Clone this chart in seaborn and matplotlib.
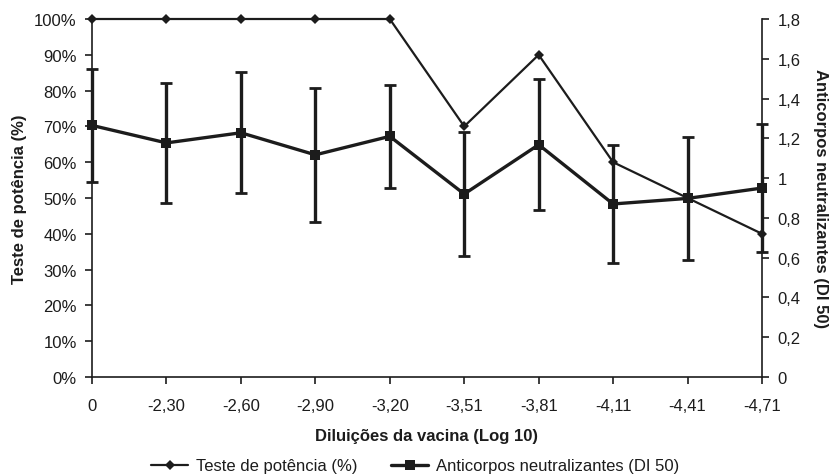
import matplotlib
matplotlib.use("Agg")
import matplotlib.pyplot as plt
from matplotlib.lines import Line2D
from matplotlib.ticker import FuncFormatter, FixedLocator
import seaborn as sns
import pandas as pd
import numpy as np

# ---- data ----
dilutions = ["0", "-2,30", "-2,60", "-2,90", "-3,20", "-3,51", "-3,81", "-4,11", "-4,41", "-4,71"]
potency_pct = [100, 100, 100, 100, 100, 70, 90, 60, 50, 40]
antibody_mean = [1.265, 1.177, 1.228, 1.117, 1.210, 0.920, 1.168, 0.870, 0.898, 0.950]
antibody_err = [0.285, 0.300, 0.305, 0.336, 0.260, 0.312, 0.330, 0.298, 0.310, 0.320]

sns.set_theme(style="white")
plt.rcParams["font.family"] = ["Liberation Sans", "DejaVu Sans"]

ink = "#1c1c1c"
fs = 12
df = pd.DataFrame({
    "pos": np.arange(len(dilutions)),
    "dil": dilutions,
    "pot": potency_pct,
    "ab": antibody_mean,
    "err": antibody_err,
})

fig = plt.figure(figsize=(8.31, 4.77), dpi=100)
ax = fig.add_axes([92 / 831, 1 - 378 / 477, (762 - 92) / 831, (378 - 20) / 477])
ax2 = ax.twinx()

sns.lineplot(data=df, x="pos", y="pot", ax=ax, color=ink, linewidth=1.6,
             marker="D", markersize=5, markeredgewidth=0, clip_on=False, zorder=3)
ax2.errorbar(df["pos"], df["ab"], yerr=df["err"], fmt="none", ecolor=ink,
             elinewidth=2.4, capsize=4, capthick=2.0, clip_on=False, zorder=2)
sns.lineplot(data=df, x="pos", y="ab", ax=ax2, color=ink, linewidth=2.4,
             marker="s", markersize=7.5, markeredgewidth=0, clip_on=False, zorder=3)

ax.set_xlim(0, len(dilutions) - 1)
ax.set_ylim(0, 100)
ax2.set_ylim(0, 1.8)

ax.xaxis.set_major_locator(FixedLocator(df["pos"].tolist()))
ax.set_xticklabels(dilutions)
ax.yaxis.set_major_locator(FixedLocator(list(range(0, 101, 10))))
ax.yaxis.set_major_formatter(FuncFormatter(lambda v, p: f"{int(round(v))}%"))
ax2.yaxis.set_major_locator(FixedLocator([round(0.2 * i, 1) for i in range(10)]))
ax2.yaxis.set_major_formatter(FuncFormatter(lambda v, p: f"{v:g}".replace(".", ",")))

for a in (ax, ax2):
    a.set_facecolor("none")
    a.spines["top"].set_visible(False)
    for s in ("left", "right", "bottom"):
        a.spines[s].set_color(ink)
        a.spines[s].set_linewidth(1.2)
    a.grid(False)
ax.spines["right"].set_visible(False)
ax2.spines["left"].set_visible(False)
ax2.spines["bottom"].set_visible(False)

ax.tick_params(axis="x", direction="out", length=5, width=1.2, color=ink,
               labelsize=fs, labelcolor=ink, pad=10, bottom=True)
ax.tick_params(axis="y", direction="out", length=5, width=1.2, color=ink,
               labelsize=fs, labelcolor=ink, pad=6, left=True)
ax2.tick_params(axis="y", direction="out", length=5, width=1.2, color=ink,
                labelsize=fs, labelcolor=ink, pad=6, right=True)

ax.set_xlabel("Diluições da vacina (Log 10)", fontsize=fs, fontweight="bold",
              color=ink, labelpad=11)
ax.set_ylabel("Teste de potência (%)", fontsize=fs, fontweight="bold", color=ink)
ax2.set_ylabel("Anticorpos neutralizantes (DI 50)", fontsize=fs, fontweight="bold",
               color=ink, rotation=-90)
ax.yaxis.set_label_coords((27 - 92) / 670, 0.5)
ax2.yaxis.set_label_coords((828 - 762) / 670 + 1, 0.5)

handles = [
    Line2D([], [], color=ink, linewidth=1.6, marker="D", markersize=5, markeredgewidth=0),
    Line2D([], [], color=ink, linewidth=2.4, marker="s", markersize=7.5, markeredgewidth=0),
]
labels = ["Teste de potência (%)", "Anticorpos neutralizantes (DI 50)"]
fig.legend(handles, labels, loc="center", bbox_to_anchor=(0.5, 1 - 467 / 477), ncol=2,
           frameon=False, fontsize=fs, handlelength=2.2, handletextpad=0.5,
           columnspacing=2.0, labelcolor=ink)

fig.savefig("out.png", dpi=100)
